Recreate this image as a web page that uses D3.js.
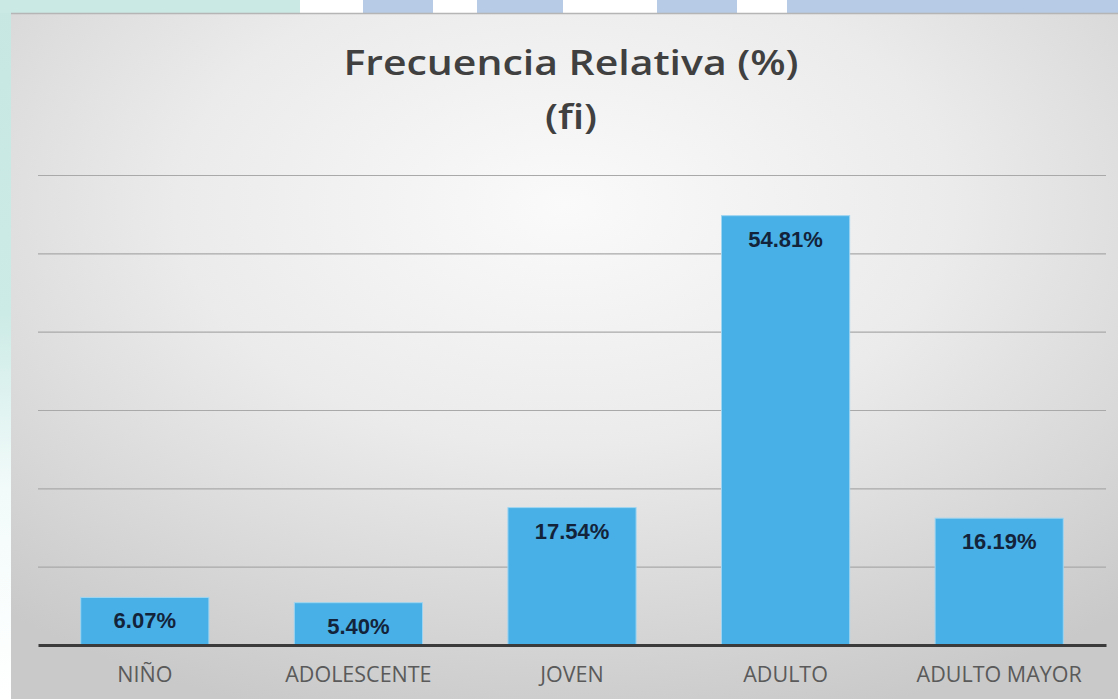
<!DOCTYPE html>
<meta charset="utf-8">
<style type="text/css">
    body { margin: 0; background: #ffffff; }
    .grid line { stroke: #a9a9a9; stroke-width: 1.2; }
    .grid .domain { display: none; }
    .xaxis .domain { stroke: #3b3b3b; stroke-width: 3; }
    .xaxis line { display: none; }
    .xaxis text { font-family: "Open Sans", sans-serif; font-size: 21.5px; fill: #5a5a5a; }
    .bar { fill: #48b0e6; stroke: #9fd5f1; stroke-width: 1; }
    .val { font-family: "Liberation Sans", Arial, sans-serif; font-weight: bold; font-size: 22px; fill: #13233a; text-anchor: middle; }
    .title { font-family: "Open Sans", sans-serif; font-weight: 600; font-size: 35px; fill: #404040; text-anchor: middle; }
</style>
<body>
</body>
<script src="https://d3js.org/d3.v7.min.js"></script>
<script>

    // chart data
    var categories = ["NIÑO", "ADOLESCENTE", "JOVEN", "ADULTO", "ADULTO MAYOR"];
    var values = [6.07, 5.40, 17.54, 54.81, 16.19];
    var yTicks = [0, 10, 20, 30, 40, 50, 60];
    var titleLines = ["Frecuencia Relativa (%)", "(fi)"];

    // decorative strip above the chart (page behind it)
    var stripe = [
        {x0: 0, x1: 300, c: "#cbe9e4"},
        {x0: 363, x1: 433, c: "#b8cbe6"},
        {x0: 477, x1: 563, c: "#b8cbe6"},
        {x0: 657, x1: 737, c: "#b8cbe6"},
        {x0: 787, x1: 1118, c: "#b8cbe6"}
    ];

    var W = 1118, H = 699;
    var box = {x: 11, y: 13};
    var margin = {top: 175, left: 38, right: 12, bottom: 54};

    var svg = d3.select("body").append("svg")
        .attr("width", W)
        .attr("height", H);

    var defs = svg.append("defs");
    var rg = defs.append("radialGradient")
        .attr("id", "bg")
        .attr("cx", "50%").attr("cy", "28%").attr("r", "78%");
    rg.append("stop").attr("offset", "0%").attr("stop-color", "#fafafa");
    rg.append("stop").attr("offset", "45%").attr("stop-color", "#ebebeb");
    rg.append("stop").attr("offset", "100%").attr("stop-color", "#c9c9c9");

    var lg = defs.append("linearGradient")
        .attr("id", "side")
        .attr("x1", 0).attr("y1", 0).attr("x2", 0).attr("y2", 1);
    lg.append("stop").attr("offset", "0%").attr("stop-color", "#c6e7e2");
    lg.append("stop").attr("offset", "45%").attr("stop-color", "#cdebe6");
    lg.append("stop").attr("offset", "70%").attr("stop-color", "#f2fbfa");
    lg.append("stop").attr("offset", "100%").attr("stop-color", "#ffffff");

    // page behind the chart
    svg.append("rect").attr("x", 0).attr("y", 0).attr("width", box.x).attr("height", H)
        .attr("fill", "url(#side)");
    svg.selectAll(".stripe")
        .data(stripe)
        .enter().append("rect")
        .attr("class", "stripe")
        .attr("x", function(d) { return d.x0; })
        .attr("y", 0)
        .attr("width", function(d) { return d.x1 - d.x0; })
        .attr("height", box.y)
        .attr("fill", function(d) { return d.c; });

    // chart area
    svg.append("rect")
        .attr("x", box.x).attr("y", box.y)
        .attr("width", W - box.x).attr("height", H - box.y)
        .attr("fill", "url(#bg)");
    svg.append("line")
        .attr("x1", box.x).attr("x2", W)
        .attr("y1", box.y + 0.5).attr("y2", box.y + 0.5)
        .attr("stroke", "#b5b5b5").attr("stroke-width", 1.5);

    var x0 = margin.left, x1 = W - margin.right;
    var yBase = H - margin.bottom;

    var xScale = d3.scaleBand()
        .domain(categories)
        .range([x0, x1])
        .paddingInner(0.4)
        .paddingOuter(0.2);

    var yScale = d3.scaleLinear()
        .domain([0, 60])
        .range([yBase, margin.top]);

    // gridlines
    svg.append("g")
        .attr("class", "grid")
        .attr("transform", "translate(" + x0 + ",0)")
        .call(d3.axisLeft(yScale).tickValues(yTicks.slice(1)).tickSize(-(x1 - x0)).tickFormat(""));

    // bars
    svg.selectAll(".bar")
        .data(values)
        .enter().append("rect")
        .attr("class", "bar")
        .attr("x", function(d, i) { return xScale(categories[i]); })
        .attr("y", function(d) { return yScale(d); })
        .attr("width", xScale.bandwidth())
        .attr("height", function(d) { return yBase - yScale(d); });

    // value labels
    svg.selectAll(".val")
        .data(values)
        .enter().append("text")
        .attr("class", "val")
        .attr("x", function(d, i) { return xScale(categories[i]) + xScale.bandwidth() / 2; })
        .attr("y", function(d) { return yScale(d) + 31; })
        .text(function(d) { return d.toFixed(2) + "%"; });

    // category axis
    var xAxis = svg.append("g")
        .attr("class", "xaxis")
        .attr("transform", "translate(0," + yBase + ")")
        .call(d3.axisBottom(xScale).tickSize(0).tickSizeOuter(0));
    xAxis.selectAll("text").attr("dy", null).attr("y", 37);

    // title (source looks a little stretched sideways)
    svg.selectAll(".title")
        .data(titleLines)
        .enter().append("text")
        .attr("class", "title")
        .attr("transform", function(d, i) { return "translate(571," + (75 + i * 54) + ") scale(1.17,1)"; })
        .text(function(d) { return d; });

</script>
